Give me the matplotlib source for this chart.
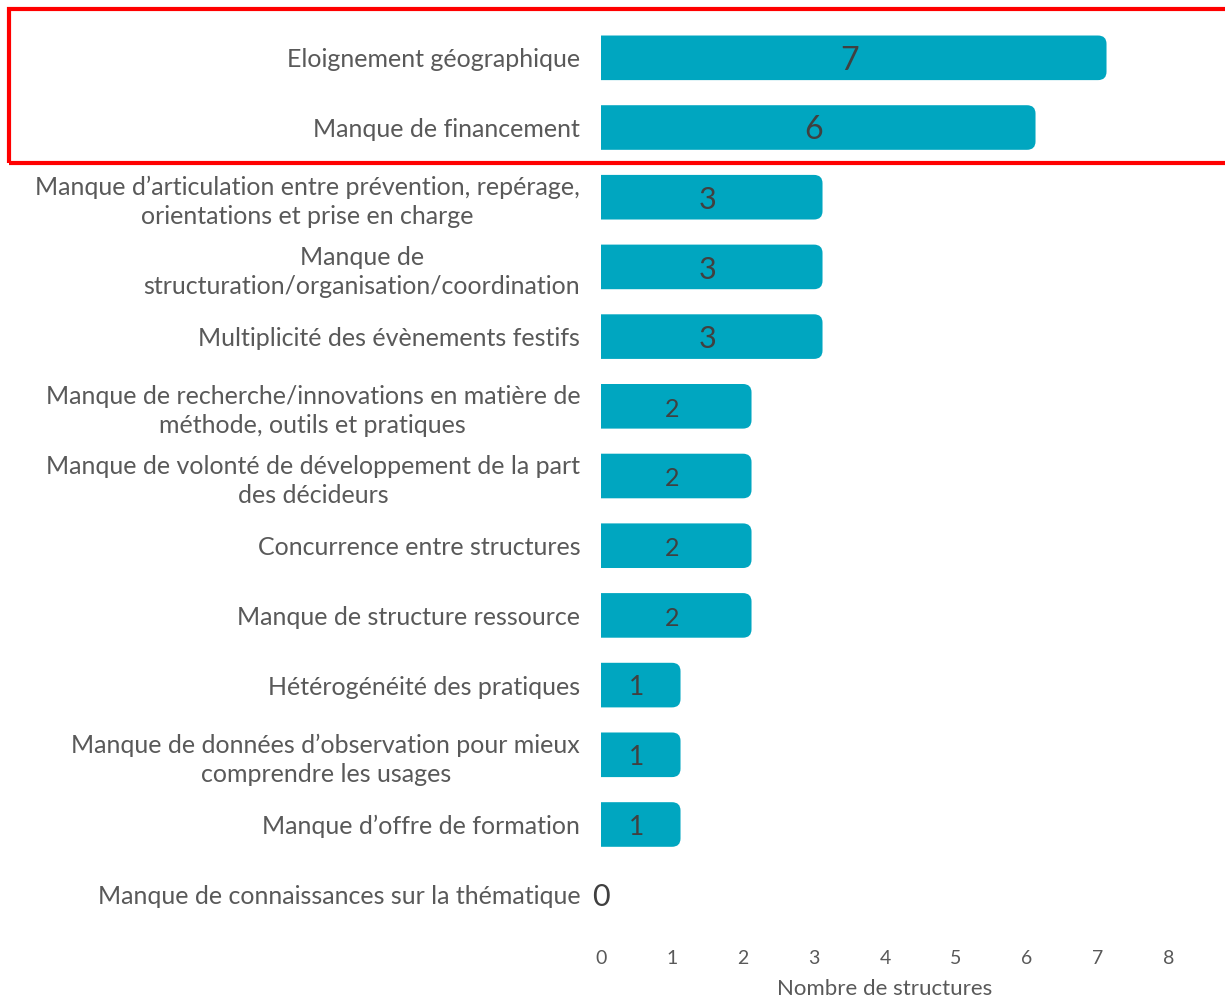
import matplotlib.pyplot as plt
from matplotlib.patches import FancyBboxPatch, Rectangle

# --- Data ---
categories = [
    "Eloignement géographique",
    "Manque de financement",
    "Manque d\u2019articulation entre prévention, repérage,\norientations et prise en charge",
    "Manque de\nstructuration/organisation/coordination",
    "Multiplicité des évènements festifs",
    "Manque de recherche/innovations en matière de\nméthode, outils et pratiques",
    "Manque de volonté de développement de la part\ndes décideurs",
    "Concurrence entre structures",
    "Manque de structure ressource",
    "Hétérogénéité des pratiques",
    "Manque de données d\u2019observation pour mieux\ncomprendre les usages",
    "Manque d\u2019offre de formation",
    "Manque de connaissances sur la thématique",
]
values = [7, 6, 3, 3, 3, 2, 2, 2, 2, 1, 1, 1, 0]
value_sizes = [23, 23, 22, 22, 22, 18, 18, 18, 18, 19, 19, 19, 22]
x_ticks = [0, 1, 2, 3, 4, 5, 6, 7, 8]

bar_color = "#00A6C0"
label_color = "#595959"
value_color = "#404040"

plt.rcParams['font.family'] = ['Lato', 'DejaVu Sans']

fig = plt.figure(figsize=(12.25, 10.06), dpi=100)
ax = fig.add_axes([601 / 1225, 0.0765, 568 / 1225, 0.9076])

bar_h = 0.64
for i, v in enumerate(values):
    if v > 0:
        # bar with rounded right end (left end hidden under the axis edge)
        p = FancyBboxPatch((-0.3, i - bar_h / 2), v + 0.3 + 0.12, bar_h,
                           boxstyle="round,pad=0,rounding_size=0.12",
                           mutation_aspect=1.0, fc=bar_color, ec="none")
        p.set_clip_path(Rectangle((0, -1), 20, 20, transform=ax.transData))
        ax.add_patch(p)
    ax.text(v / 2, i + 0.04, str(v), ha="center", va="center",
            fontsize=value_sizes[i], color=value_color)

ax.set_xlim(0, 8)
ax.set_ylim(12.5, -0.6)
ax.set_yticks(range(len(categories)))
ax.set_yticklabels(categories, fontsize=18, color=label_color,
                   multialignment="center", linespacing=1.3)
ax.set_xticks(x_ticks)
ax.set_xticklabels([str(t) for t in x_ticks], fontsize=14, color=label_color)
ax.tick_params(axis="y", length=0, pad=15)
ax.tick_params(axis="x", length=0, pad=15)
ax.set_xlabel("Nombre de structures", fontsize=16, color=label_color, labelpad=9)
for s in ax.spines.values():
    s.set_visible(False)

# red highlight frame around the two first rows
frame = Rectangle((9 / 1225, 1 - 163 / 1006), 1230 / 1225, 154 / 1006,
                  transform=fig.transFigure, fill=False, ec="#FF0000", lw=3,
                  clip_on=False)
fig.patches.append(frame)

fig.savefig("out.png", dpi=100)
